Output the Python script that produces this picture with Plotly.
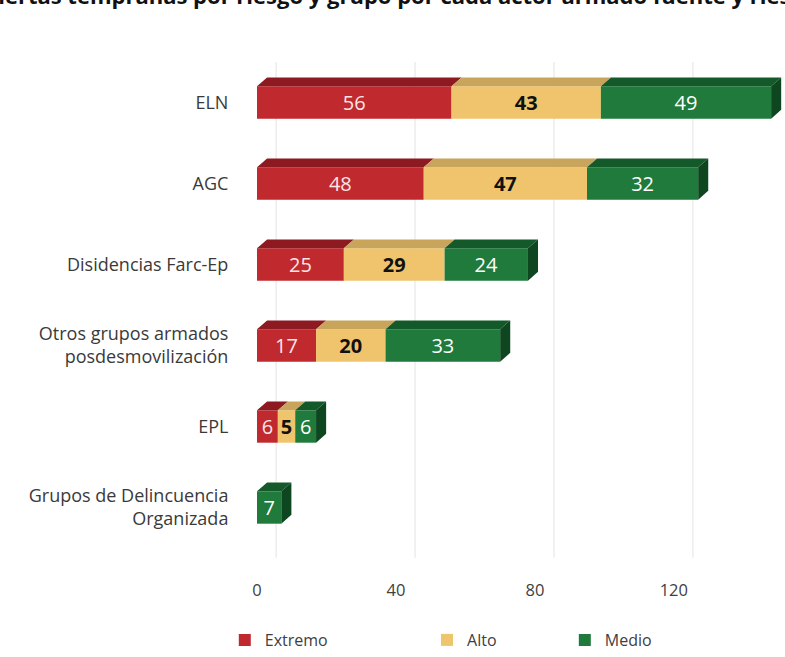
import plotly.graph_objects as go

categories = ["ELN", "AGC", "Disidencias Farc-Ep",
              "Otros grupos armados<br>posdesmovilización", "EPL",
              "Grupos de Delincuencia<br>Organizada"]
extremo = [56, 48, 25, 17, 6, 0]
alto = [43, 47, 29, 20, 5, 0]
medio = [49, 32, 24, 33, 6, 7]
series_names = ["Extremo", "Alto", "Medio"]
x_ticks = [0, 40, 80, 120]

front = ["#C0292E", "#EFC46C", "#1F7A3B"]
top = ["#8C1A20", "#C8A55A", "#14592A"]
side = ["#7A151A", "#A8873F", "#0E4620"]
txtcol = ["#FBE6E6", "#111111", "#FFFFFF"]

W = 0.4      # bar thickness in category units
DX = 2.9     # 3D depth offset in value units
DY = 0.11    # 3D depth offset in category units

FONT = "Open Sans"

fig = go.Figure()
ypos = list(range(len(categories)))
series = [extremo, alto, medio]

# gridlines (back wall, offset)
for v in x_ticks + [160]:
    fig.add_shape(type="line", xref="x", yref="paper", x0=v + 5.5, x1=v + 5.5,
                  y0=-0.02, y1=1.0, line=dict(color="#E3E3E3", width=1), layer="below")

legend_ids = ["legend", "legend2", "legend3"]
bases = [0] * len(categories)
for s, vals in enumerate(series):
    fig.add_trace(go.Bar(
        y=ypos, x=vals, base=bases[:], orientation="h", width=W,
        name=series_names[s], legend=legend_ids[s],
        marker=dict(color=front[s], line=dict(width=0)),
        text=[str(v) if v > 0 else "" for v in vals],
        textposition="inside", insidetextanchor="middle", textangle=0,
        constraintext="none",
        textfont=dict(family=FONT, size=20, color=txtcol[s],
                      weight="bold" if s == 1 else "normal"),
        hoverinfo="skip",
    ))
    # top faces
    for i, v in enumerate(vals):
        if v <= 0:
            continue
        x0 = bases[i]
        x1 = bases[i] + v
        yt = i - W / 2
        fig.add_trace(go.Scatter(
            x=[x0, x1, x1 + DX, x0 + DX, x0],
            y=[yt, yt, yt - DY, yt - DY, yt],
            mode="lines", fill="toself", fillcolor=top[s],
            line=dict(width=0, color=top[s]), showlegend=False, hoverinfo="skip"))
    bases = [b + v for b, v in zip(bases, vals)]

# side faces on the end of each bar
for i, total in enumerate(bases):
    last = max(k for k in range(3) if series[k][i] > 0)
    yt = i - W / 2
    yb = i + W / 2
    fig.add_trace(go.Scatter(
        x=[total, total + DX, total + DX, total, total],
        y=[yt, yt - DY, yb - DY, yb, yt],
        mode="lines", fill="toself", fillcolor=side[last],
        line=dict(width=0, color=side[last]), showlegend=False, hoverinfo="skip"))

leg_common = dict(orientation="h", xanchor="left", yanchor="middle", y=-0.19,
                  font=dict(family=FONT, size=16, color="#404040"),
                  itemwidth=30, bgcolor="rgba(0,0,0,0)")
# legend x positions in paper units (plot area spans px 257..785)
leg_x = [-0.061, 0.322, 0.583]

fig.update_layout(
    width=785, height=657,
    margin=dict(l=257, r=0, t=62, b=104),
    paper_bgcolor="white", plot_bgcolor="white",
    barmode="overlay",
    font=dict(family=FONT, color="#404040"),
    annotations=[dict(
        text="<b>Alertas tempranas por riesgo y grupo por cada actor armado fuente y riesgo</b>",
        xref="paper", yref="paper", x=0.27, y=1, xanchor="center", yanchor="bottom",
        yshift=50, showarrow=False,
        font=dict(family=FONT, size=22, color="#111111"))],
    xaxis=dict(range=[0, 152], tickvals=x_ticks, showgrid=False, zeroline=False,
               showline=False, ticks="outside", ticklen=27, tickcolor="rgba(0,0,0,0)",
               tickfont=dict(family=FONT, size=16.5, color="#404040")),
    yaxis=dict(range=[5.5, -0.5], tickvals=ypos, ticktext=categories,
               showgrid=False, zeroline=False, showline=False,
               ticks="outside", ticklen=24, tickcolor="rgba(0,0,0,0)",
               tickfont=dict(family=FONT, size=18, color="#3A3A3A")),
    legend=dict(x=leg_x[0], **leg_common),
    legend2=dict(x=leg_x[1], **leg_common),
    legend3=dict(x=leg_x[2], **leg_common),
    showlegend=True,
)

fig.write_html("out.html")
